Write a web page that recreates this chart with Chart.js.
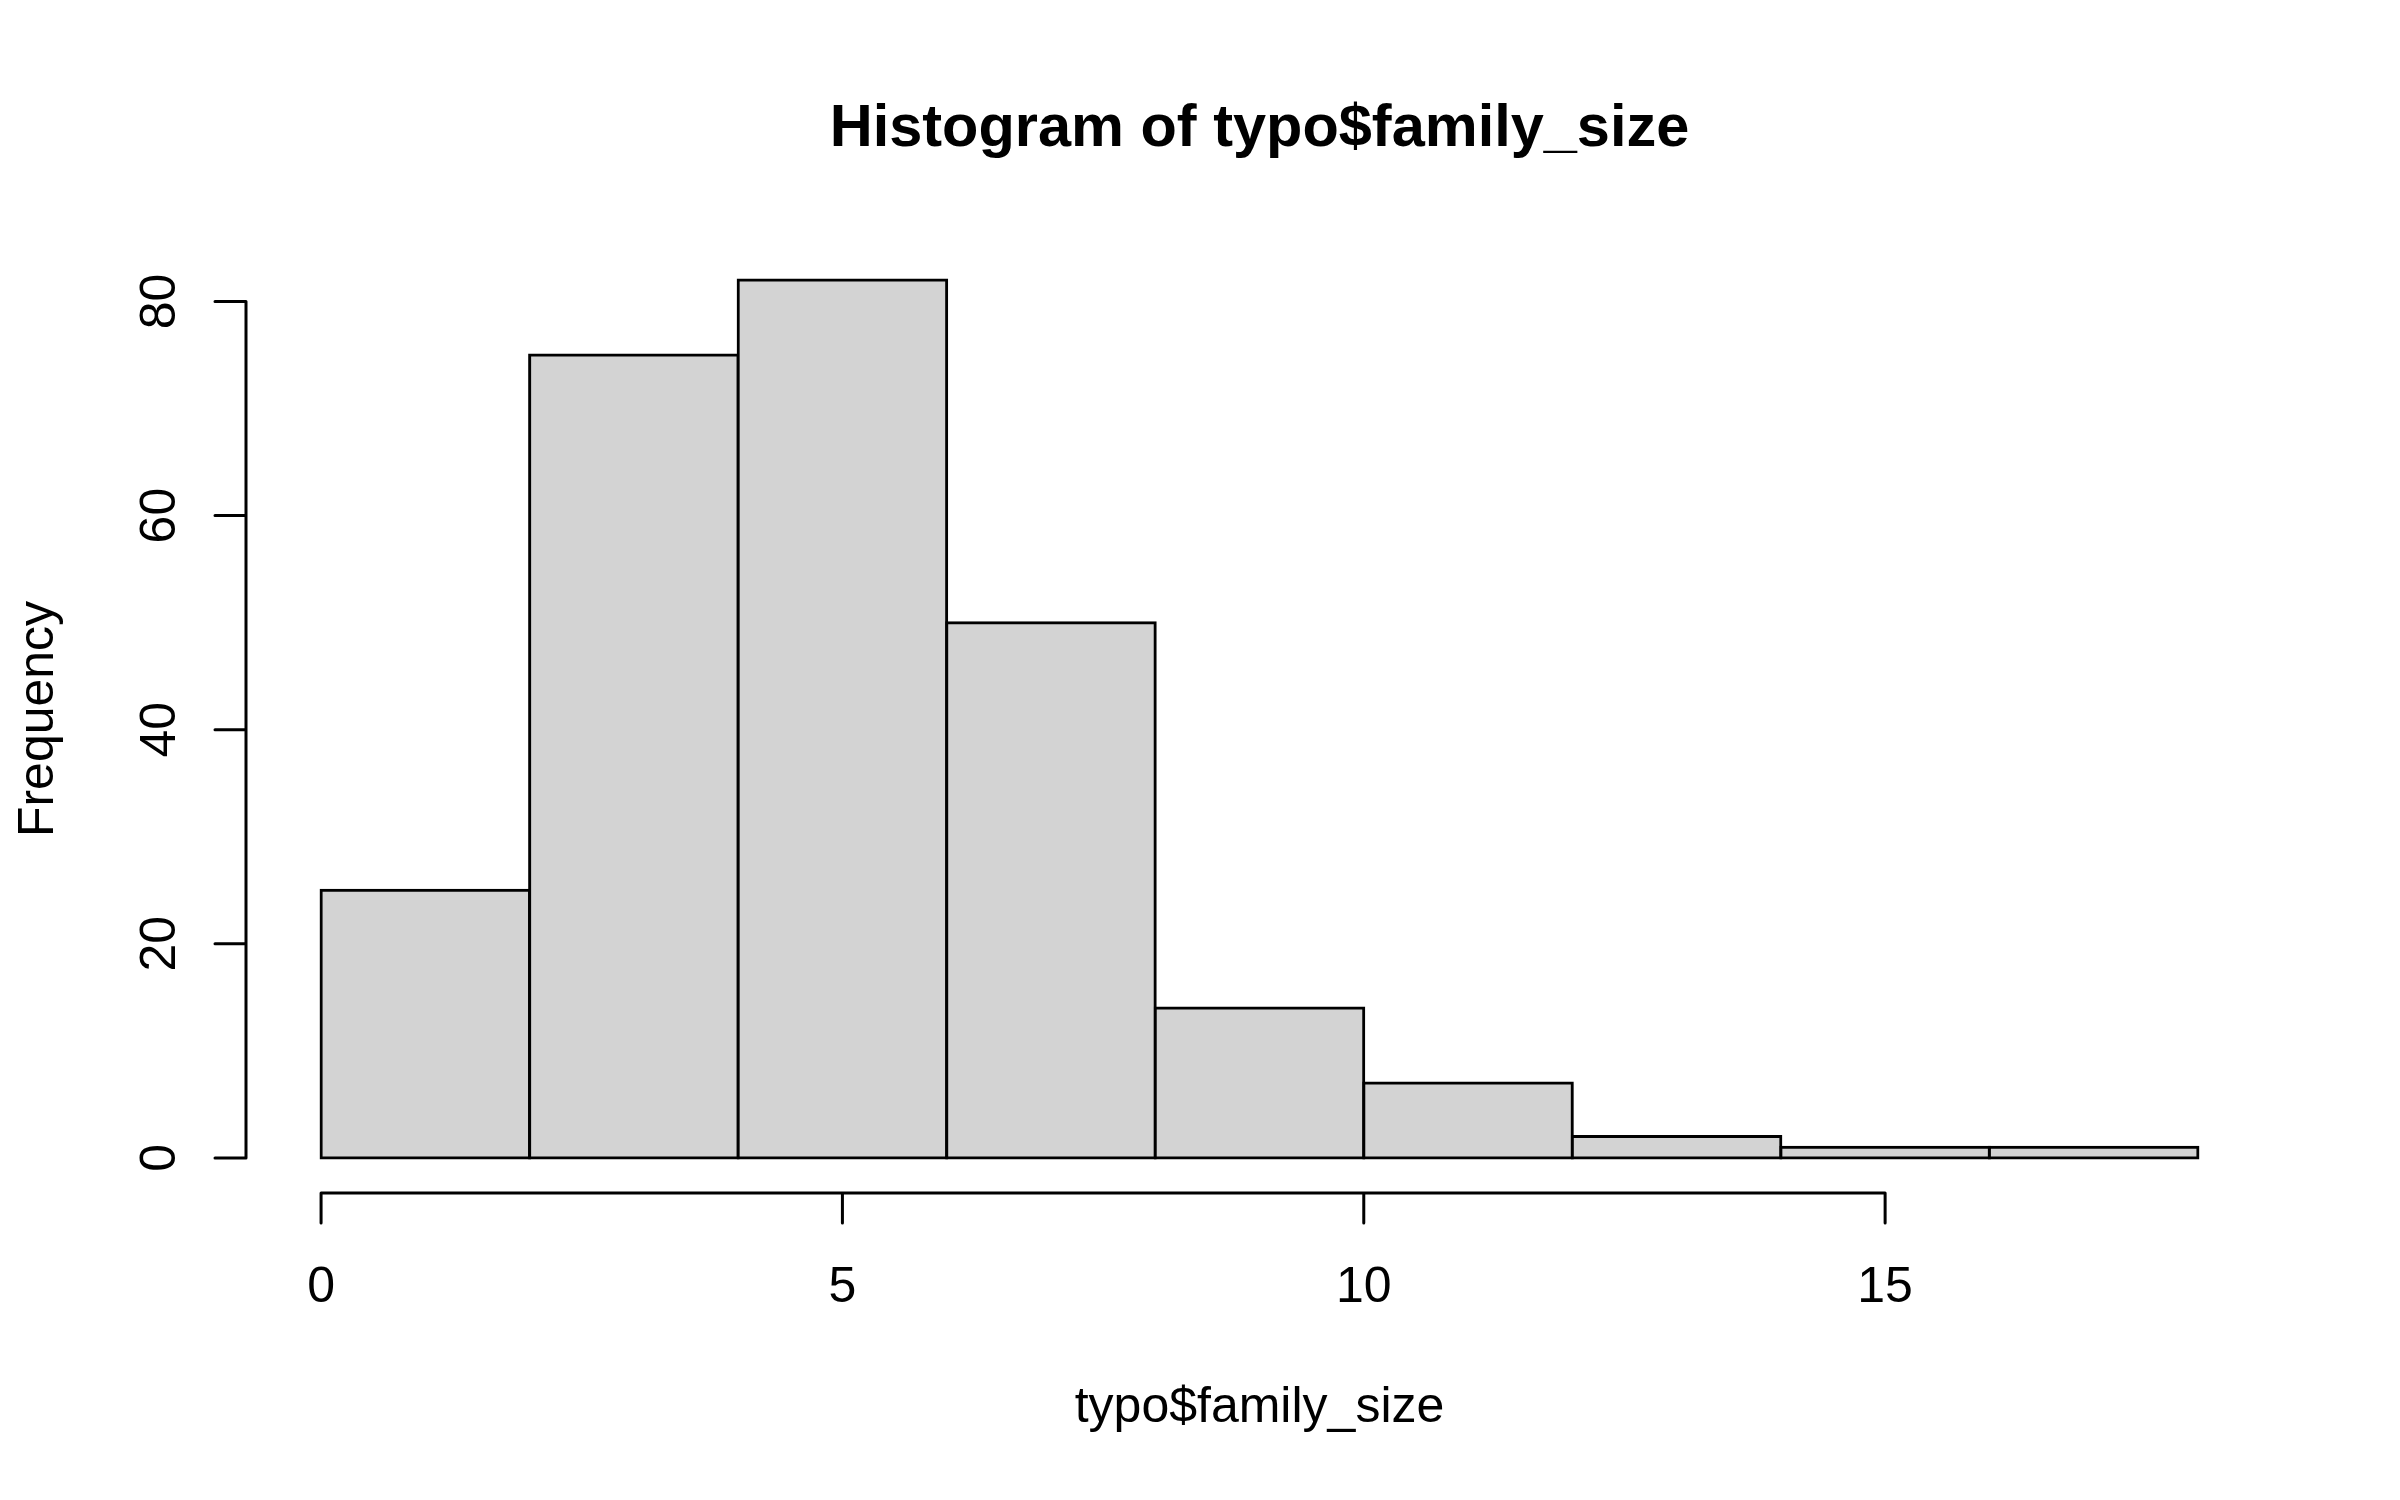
<!DOCTYPE html>
<html>
<head>
<meta charset="utf-8">
<title>Histogram of typo$family_size</title>
<script src="https://cdn.jsdelivr.net/npm/chart.js@4.4.1/dist/chart.umd.min.js"></script>
<style>
  html, body { margin: 0; padding: 0; background: #ffffff; }
  #wrap { width: 2400px; height: 1500px; }
</style>
</head>
<body>
<div id="wrap"><canvas id="histChart" width="2400" height="1500"></canvas></div>
<script>
// histogram data (bin edges + counts)
const binEdges = [0, 2, 4, 6, 8, 10, 12, 14, 16, 18];
const counts = [25, 75, 82, 50, 14, 7, 2, 1, 1];
const xTicks = [0, 5, 10, 15];
const yTicks = [0, 20, 40, 60, 80];

const titleText = "Histogram of typo$family_size";
const xTitle = "typo$family_size";
const yTitle = "Frequency";

// R style axes, drawn from the chart's own scales
const rAxes = {
  id: "rAxes",
  afterDraw(chart) {
    const { ctx, chartArea, scales } = chart;
    const xs = scales.x, ys = scales.y;
    ctx.save();
    ctx.strokeStyle = "#000";
    ctx.fillStyle = "#000";
    ctx.lineWidth = 3;
    ctx.lineCap = "round";

    // y axis
    const ax = chartArea.left;
    ctx.beginPath();
    ctx.moveTo(ax, ys.getPixelForValue(yTicks[0]));
    ctx.lineTo(ax, ys.getPixelForValue(yTicks[yTicks.length - 1]));
    yTicks.forEach((t) => {
      const py = ys.getPixelForValue(t);
      ctx.moveTo(ax, py);
      ctx.lineTo(ax - 31, py);
    });
    ctx.stroke();

    // x axis
    const ay = chartArea.bottom;
    ctx.beginPath();
    ctx.moveTo(xs.getPixelForValue(xTicks[0]), ay);
    ctx.lineTo(xs.getPixelForValue(xTicks[xTicks.length - 1]), ay);
    xTicks.forEach((t) => {
      const px = xs.getPixelForValue(t);
      ctx.moveTo(px, ay);
      ctx.lineTo(px, ay + 30);
    });
    ctx.stroke();

    // tick labels
    ctx.font = "50px 'Liberation Sans', Arial, sans-serif";
    ctx.textAlign = "center";
    ctx.textBaseline = "alphabetic";
    xTicks.forEach((t) => {
      ctx.fillText(String(t), xs.getPixelForValue(t), 1302);
    });
    yTicks.forEach((t) => {
      ctx.save();
      ctx.translate(175, ys.getPixelForValue(t));
      ctx.rotate(-Math.PI / 2);
      ctx.fillText(String(t), 0, 0);
      ctx.restore();
    });

    // axis titles
    const cx = (chartArea.left + chartArea.right) / 2;
    const cy = (chartArea.top + chartArea.bottom) / 2;
    ctx.fillText(xTitle, cx, 1422);
    ctx.save();
    ctx.translate(53, cy);
    ctx.rotate(-Math.PI / 2);
    ctx.fillText(yTitle, 0, 0);
    ctx.restore();

    // main title
    ctx.font = "bold 59.5px 'Liberation Sans', Arial, sans-serif";
    ctx.fillText(titleText, cx, 146);
    ctx.restore();
  }
};

const barData = counts.map((c, i) => ({ x: (binEdges[i] + binEdges[i + 1]) / 2, y: c }));

// R pads the range by 4% on each side
const xPad = (binEdges[binEdges.length - 1] - binEdges[0]) * 0.04;
const yPad = Math.max(...counts) * 0.04;

new Chart(document.getElementById("histChart"), {
  type: "bar",
  data: {
    datasets: [{
      data: barData,
      backgroundColor: "#d3d3d3",
      borderColor: "#000000",
      borderWidth: 3,
      borderSkipped: false,
      inflateAmount: 1.5,
      barPercentage: 1,
      categoryPercentage: 1
    }]
  },
  options: {
    responsive: false,
    animation: false,
    layout: { padding: { left: 246, right: 127, top: 245, bottom: 307 } },
    scales: {
      x: {
        type: "linear",
        offset: false,
        min: binEdges[0] - xPad,
        max: binEdges[binEdges.length - 1] + xPad,
        display: false,
        // ticks at the bin edges so the bars fill the whole bin width
        afterBuildTicks: (axis) => {
          axis.ticks = binEdges.map((v) => ({ value: v }));
        }
      },
      y: {
        min: -yPad,
        max: Math.max(...counts) + yPad,
        display: false
      }
    },
    plugins: {
      legend: { display: false },
      tooltip: { enabled: false }
    }
  },
  plugins: [rAxes]
});
</script>
</body>
</html>
